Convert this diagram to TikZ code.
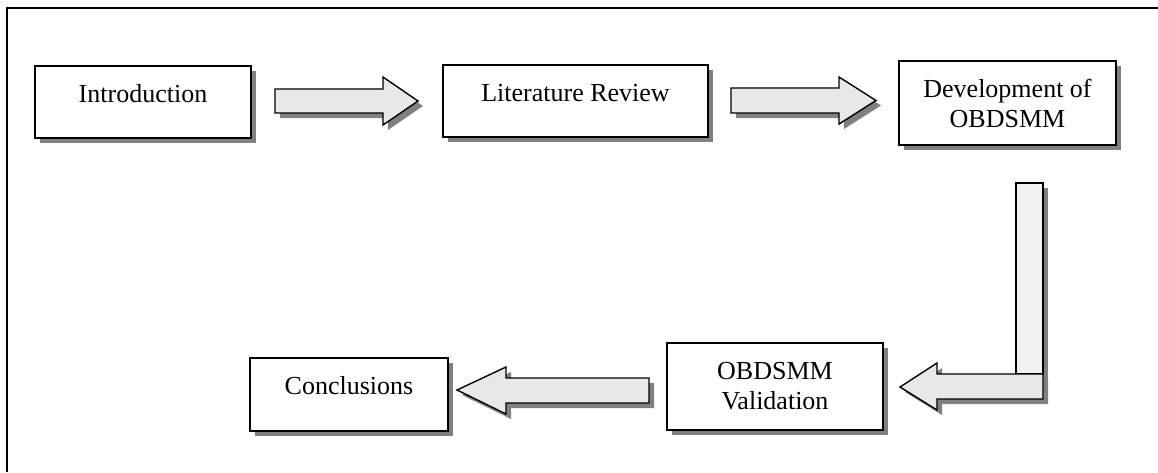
\documentclass[tikz,border=0pt]{standalone}
\usepackage{fontspec}
\setmainfont{Liberation Serif}
\begin{document}
\begin{tikzpicture}[x=1pt,y=-1pt,
  every node/.style={font=\fontsize{26}{30}\selectfont},
  stagebox/.style={draw=black, line width=1.4pt, fill=white, inner sep=0pt, align=center},
  onebox/.style={stagebox, text height=36pt},
  shadowfill/.style={fill=shadowgray, draw=none},
  blockarrow/.style={draw=black, line width=1.4pt, fill=arrowgray, line join=miter},
]
\definecolor{shadowgray}{RGB}{128,128,128}
\definecolor{arrowgray}{RGB}{232,232,232}
\definecolor{bargray}{RGB}{241,241,241}
\useasboundingbox (0,0) rectangle (1158,472);
% outer frame (cut by the page on the right and at the bottom)
\draw[line width=1.4pt] (1158,8) -- (7,8) -- (7,472);

% shadows of boxes
\foreach \a/\b/\c/\d in {35/66/251/138, 443/65/708/137, 899/61/1116/145, 667/343/883/430, 250/358/448/431}
  \fill[shadowgray] (\a+5,\b+5) rectangle (\c+5,\d+5);

% boxes
\node[onebox, minimum width=216pt, minimum height=72pt, text depth=36pt] (intro) at (143,102) {Introduction};
\node[onebox, minimum width=265pt, minimum height=72pt, text depth=36pt] (lit) at (575.5,101) {Literature Review};
\node[stagebox, minimum width=217pt, minimum height=84pt] (dev) at (1007.5,103) {Development of\\OBDSMM};
\node[stagebox, minimum width=216pt, minimum height=87pt] (val) at (775,386.5) {OBDSMM\\Validation};
\node[onebox, minimum width=198pt, minimum height=73pt, text depth=37pt] (concl) at (349,394.5) {Conclusions};

% block arrow shadows
\begin{scope}[shift={(5,5)}]
  \fill[shadowgray] (275,89) -- (383,89) -- (383,77) -- (418,101) -- (383,125) -- (383,113) -- (275,113) -- cycle;
  \fill[shadowgray] (731,88) -- (839,88) -- (839,77) -- (876,100.5) -- (839,124) -- (839,113) -- (731,113) -- cycle;
  \fill[shadowgray] (1016,183) rectangle (1043,399);
  \fill[shadowgray] (1043,374) -- (937,374) -- (937,363) -- (900,387) -- (937,410) -- (937,399) -- (1043,399) -- cycle;
  \fill[shadowgray] (649,378) -- (506,378) -- (506,367) -- (457,390) -- (506,414) -- (506,403) -- (649,403) -- cycle;
\end{scope}

% block arrows
\draw[blockarrow] (275,89) -- (383,89) -- (383,77) -- (418,101) -- (383,125) -- (383,113) -- (275,113) -- cycle;
\draw[blockarrow] (731,88) -- (839,88) -- (839,77) -- (876,100.5) -- (839,124) -- (839,113) -- (731,113) -- cycle;
\draw[blockarrow, fill=bargray] (1016,374) -- (1016,183) -- (1043,183) -- (1043,374) -- cycle;
\draw[blockarrow] (1043,374) -- (937,374) -- (937,363) -- (900,387) -- (937,410) -- (937,399) -- (1043,399) -- cycle;
\draw[blockarrow] (649,378) -- (506,378) -- (506,367) -- (457,390) -- (506,414) -- (506,403) -- (649,403) -- cycle;
\end{tikzpicture}
\end{document}
